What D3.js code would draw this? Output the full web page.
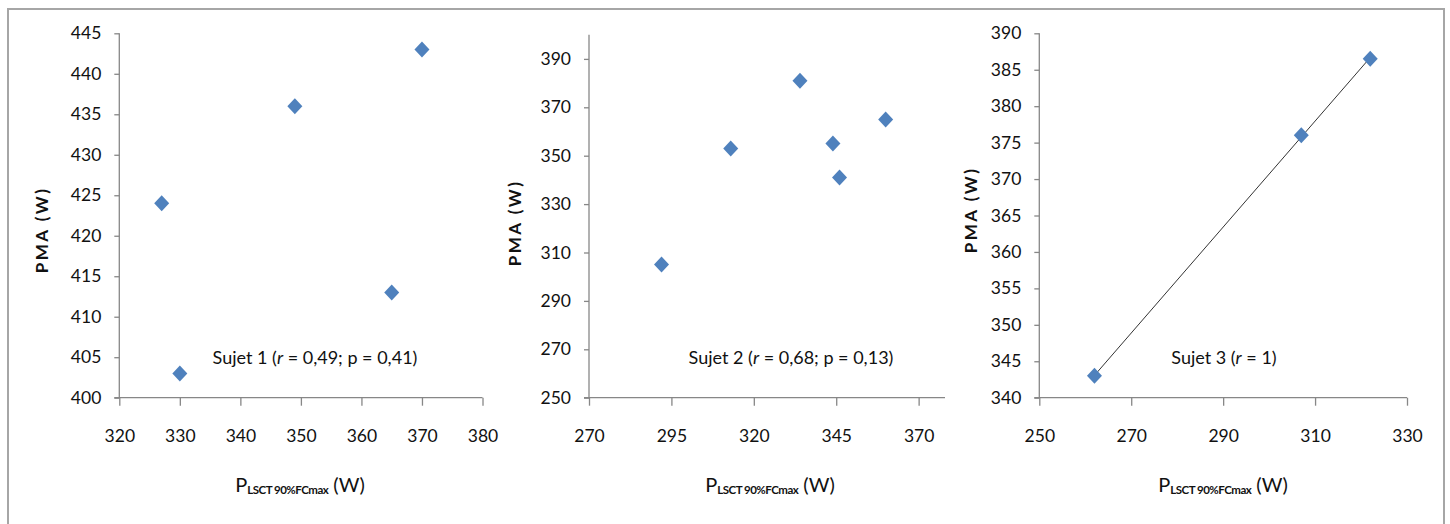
<!DOCTYPE html>
<html><head><meta charset="utf-8">
<script src="https://cdn.jsdelivr.net/npm/d3@7"></script>
<style>
body{margin:0;background:#fff;}
text{font-family:Lato,"Open Sans",sans-serif;fill:#111;}
</style></head>
<body><svg id="c" width="1450" height="524"></svg>
<script>
// ---- data ----
const s1x = [327, 330, 349, 365, 370];
const s1y = [424, 403, 436, 413, 443];
const s2x = [292, 313, 334, 344, 346, 360];
const s2y = [305, 353, 381, 355, 341, 365];
const s3x = [262, 307, 322];
const s3y = [343, 376, 386.5];

const s1xTicks = [320, 330, 340, 350, 360, 370, 380];
const s1yTicks = [400, 405, 410, 415, 420, 425, 430, 435, 440, 445];
const s2xTicks = [270, 295, 320, 345, 370];
const s2yTicks = [250, 270, 290, 310, 330, 350, 370, 390];
const s3xTicks = [250, 270, 290, 310, 330];
const s3yTicks = [340, 345, 350, 355, 360, 365, 370, 375, 380, 385, 390];

const labels = ["Sujet 1", "Sujet 2", "Sujet 3"];
const stats = [["0,49", "0,41"], ["0,68", "0,13"], ["1", null]];

const panels = [
  {xs: s1x, ys: s1y, xd: [320, 380], yd: [400, 445], xt: s1xTicks, yt: s1yTicks,
   box: [119.3, 482.5, 33.3, 397.7], ylab: [42, 230], xlab: 300, ann: 315, trend: false},
  {xs: s2x, ys: s2y, xd: [270, 378], yd: [250, 400], xt: s2xTicks, yt: s2yTicks,
   box: [589, 945, 34.7, 397.7], ylab: [515, 223], xlab: 770, ann: 791, trend: false},
  {xs: s3x, ys: s3y, xd: [250, 330], yd: [340, 390], xt: s3xTicks, yt: s3yTicks,
   box: [1039.3, 1407, 33.3, 397.7], ylab: [971, 210], xlab: 1223, ann: 1224, trend: true}
];

const svg = d3.select("#c");
svg.append("rect").attr("x", 8).attr("y", 9).attr("width", 1436).attr("height", 540)
  .attr("fill", "none").attr("stroke", "#a6a6a6").attr("stroke-width", 2);

const axisColor = "#878787";
const blue = "#4F81BD";

panels.forEach((p, i) => {
  const [L, R, T, B] = p.box;
  const x = d3.scaleLinear().domain(p.xd).range([L, R]);
  const y = d3.scaleLinear().domain(p.yd).range([B, T]);
  const g = svg.append("g");

  // y axis
  const ya = g.append("g").attr("transform", `translate(${L},0)`)
    .call(d3.axisLeft(y).tickValues(p.yt).tickSize(5).tickPadding(13).tickSizeOuter(0));
  ya.select(".domain").attr("stroke", axisColor).attr("stroke-width", 1.3)
    .attr("d", `M0,${B}V${T}`);
  ya.selectAll(".tick line").attr("stroke", axisColor).attr("stroke-width", 1.3);
  ya.selectAll(".tick text").style("font-size", "17.5px").attr("fill", "#111");

  // x axis
  const xa = g.append("g").attr("transform", `translate(0,${B})`)
    .call(d3.axisBottom(x).tickValues(p.xt).tickSize(8).tickPadding(24).tickSizeOuter(0));
  xa.select(".domain").attr("stroke", axisColor).attr("stroke-width", 1.3)
    .attr("d", `M${L - 5},0H${R}`);
  xa.selectAll(".tick line").attr("stroke", axisColor).attr("stroke-width", 1.3);
  xa.selectAll(".tick text").style("font-size", "17.5px").attr("fill", "#111");

  // trend line
  if (p.trend) {
    const mx = d3.mean(p.xs), my = d3.mean(p.ys);
    let sxy = 0, sxx = 0;
    p.xs.forEach((v, k) => { sxy += (v - mx) * (p.ys[k] - my); sxx += (v - mx) * (v - mx); });
    const b = sxy / sxx, a = my - b * mx;
    const x0 = d3.min(p.xs), x1 = d3.max(p.xs);
    g.append("line").attr("x1", x(x0)).attr("y1", y(a + b * x0))
      .attr("x2", x(x1)).attr("y2", y(a + b * x1))
      .attr("stroke", "#333").attr("stroke-width", 1);
  }

  // points
  const pts = p.xs.map((v, k) => [v, p.ys[k]]);
  g.selectAll("path.pt").data(pts).join("path").attr("class", "pt")
    .attr("d", d => { const cx = x(d[0]), cy = y(d[1]);
      return `M${cx},${cy - 8}L${cx + 7.5},${cy}L${cx},${cy + 8}L${cx - 7.5},${cy}Z`; })
    .attr("fill", blue);

  // annotation
  const t = g.append("text").attr("x", p.ann).attr("y", 364).attr("text-anchor", "middle")
    .style("font-size", "18px");
  t.append("tspan").text(labels[i] + " (");
  t.append("tspan").text("r").style("font-style", "italic");
  t.append("tspan").text(" = " + stats[i][0] + (stats[i][1] ? "; p = " + stats[i][1] : "") + ")");

  // y label
  g.append("text").attr("transform", `translate(${p.ylab[0] + 6},${p.ylab[1]}) rotate(-90)`)
    .attr("text-anchor", "middle").style("font-size", "17px").style("font-weight", "bold")
    .attr("letter-spacing", "2.5").text("PMA (W)");

  // x label
  const xl = g.append("text").attr("x", p.xlab).attr("y", 492).attr("text-anchor", "middle")
    .style("font-size", "20px");
  xl.append("tspan").text("P");
  xl.append("tspan").text("LSCT 90%FCmax").style("font-size", "11.5px").style("font-weight", "bold")
    .attr("dy", 2).attr("letter-spacing", "-0.5");
  xl.append("tspan").text(" (W)").attr("dy", -2);
});
</script></body></html>
